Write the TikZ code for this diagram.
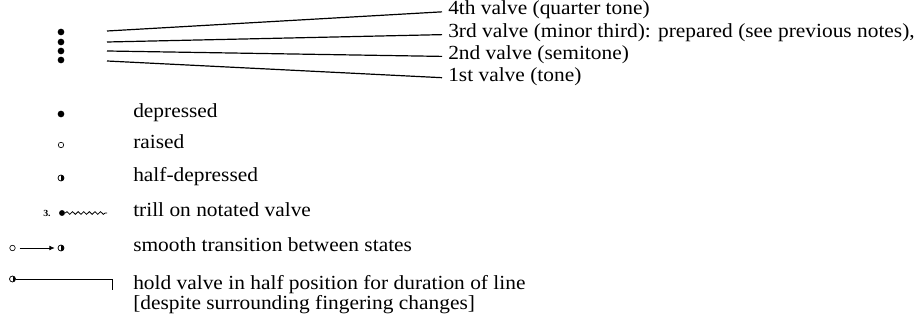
\documentclass[tikz,border=0pt]{standalone}
\usepackage{fontspec}
\setmainfont{Liberation Serif}[FakeStretch=1.07]
\usetikzlibrary{arrows.meta,decorations.pathmorphing}
\begin{document}
\begin{tikzpicture}[x=0.75pt,y=-0.75pt,
  fulldot/.style={circle,fill=black,inner sep=0pt,minimum size=5pt},
  opendot/.style={circle,draw=black,fill=white,line width=0.5pt,inner sep=0pt,minimum size=4.1pt},
  halfdot/.style={circle,draw=black,fill=white,line width=0.55pt,inner sep=0pt,minimum size=4.5pt,
    path picture={\fill[black] (path picture bounding box.south) rectangle (path picture bounding box.north east);}},
  lbl/.style={anchor=mid west,inner sep=0pt,font=\fontsize{15}{17}\selectfont},
  fan/.style={line width=0.9pt,shorten >=4.5pt},
  conn/.style={line width=0.6pt}
]
\useasboundingbox (0,0) rectangle (924,320);

% valve stack
\node[fulldot] (v4) at (61,32) {};
\node[fulldot] (v3) at (61,42) {};
\node[fulldot] (v2) at (61,51) {};
\node[fulldot] (v1) at (61,60) {};
\coordinate (s4) at (107,31);
\coordinate (s3) at (107,42);
\coordinate (s2) at (107,51);
\coordinate (s1) at (107,61);

\node[lbl] (t4) at (448,11.5) {4th valve (quarter tone)};
\node[lbl] (t3) at (448,34.5) {3rd valve (minor third): prepared (see previous notes),};
\node[lbl] (t2) at (448,56.5) {2nd valve (semitone)};
\node[lbl] (t1) at (448,78) {1st valve (tone)};

\draw[fan] (s4) -- (t4.mid west);
\draw[fan] (s3) -- (t3.mid west);
\draw[fan] (s2) -- (t2.mid west);
\draw[fan] (s1) -- (t1.mid west);

% legend rows
\node[fulldot] (d1) at (61,114) {};
\node[lbl] (l1) at (133,114.5) {depressed};

\node[opendot] (d2) at (61,145) {};
\node[lbl] (l2) at (133,145.5) {raised};

\node[halfdot] (d3) at (61,178) {};
\node[lbl] (l3) at (133,178.5) {half-depressed};

\node[inner sep=0pt,font=\fontsize{7}{8}\selectfont\bfseries] (n3) at (47,213.5) {3.};
\node[fulldot,minimum size=4.4pt] (d4) at (62,213) {};
\coordinate (w4) at (107,213);
\draw[line width=0.6pt,decorate,decoration={snake,amplitude=1pt,segment length=4.2pt}] (d4.east) -- (w4);
\node[lbl] (l4) at (133,213.5) {trill on notated valve};

\node[opendot] (d5a) at (12.5,248) {};
\node[halfdot] (d5b) at (61,248) {};
\draw[conn,-{Latex[length=4pt,width=3.6pt]},shorten <=3pt,shorten >=2.2pt] (d5a.east) -- (d5b.west);
\node[lbl] (l5) at (133,248.5) {smooth transition between states};

\node[halfdot] (d6) at (12.5,279) {};
\coordinate (h1) at (112,279);
\coordinate (h2) at (112,290);
\draw[conn] (d6.east) -- (h1) -- (h2);
\node[lbl] (l6) at (133,286.5) {hold valve in half position for duration of line};
\node[lbl] (l7) at (133,306) {[despite surrounding fingering changes]};
\end{tikzpicture}
\end{document}
